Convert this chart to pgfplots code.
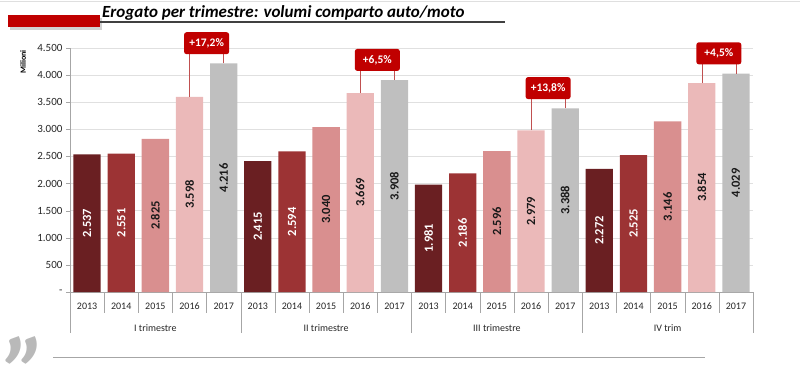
\documentclass[border=0pt]{standalone}
\usepackage{pgfplots}
\usepackage{pgfplotstable}
\pgfplotsset{compat=1.18}
\usepackage{fontspec}
\setmainfont{Carlito}
\definecolor{c13}{HTML}{6A1F22}
\definecolor{c14}{HTML}{9C3334}
\definecolor{c15}{HTML}{D98F8F}
\definecolor{c16}{HTML}{EBB9B9}
\definecolor{c17}{HTML}{BFBFBF}
\definecolor{cred}{HTML}{C00000}
\definecolor{cline}{HTML}{C05050}
\definecolor{gridc}{HTML}{E0E0E0}
\definecolor{axc}{HTML}{A6A6A6}

\pgfplotstableread{
x v
0 2537
5 2415
10 1981
15 2272
}\ya
\pgfplotstableread{
x v
1 2551
6 2594
11 2186
16 2525
}\yb
\pgfplotstableread{
x v
2 2825
7 3040
12 2596
17 3146
}\yc
\pgfplotstableread{
x v
3 3598
8 3669
13 2979
18 3854
}\yd
\pgfplotstableread{
x v
4 4216
9 3908
14 3388
19 4029
}\ye

\begin{document}
\begin{tikzpicture}[x=1pt,y=1pt]
\path[use as bounding box] (0,0) rectangle (800,-373);
% header
\draw[gray!25, line width=1pt] (0,-1) -- (800,-1);
\fill[gray!35] (10,-17.5) rectangle (102,-29.5);
\fill[cred] (8,-15) rectangle (100,-27);
\draw[black!75, line width=1.3pt] (100,-22) -- (505,-22);
\node[anchor=base west, inner sep=0pt, font=\fontsize{17}{17}\selectfont\bfseries\itshape] at (102,-17) {Erogato per trimestre: volumi comparto auto/moto};
% y label
\node[rotate=90, font=\fontsize{8}{8}\selectfont\bfseries] at (23,-62) {Milioni};
% footer
\node[text=gray!55, inner sep=0pt, anchor=base west, font=\fontsize{100}{100}\selectfont\bfseries\itshape] at (4,-350) {„};
\draw[axc, line width=1.2pt] (53,-357.5) -- (705,-357.5);

\begin{axis}[
  at={(70pt,-292pt)}, anchor=south west,
  scale only axis, width=683pt, height=244pt,
  xmin=-0.5, xmax=19.5, ymin=0, ymax=4500,
  clip=false,
  axis lines*=left,
  axis line style={draw=axc},
  ymajorgrids, grid style={draw=gridc},
  ytick={0,500,...,4500},
  yticklabels={-\hspace{9pt},500,1.000,1.500,2.000,2.500,3.000,3.500,4.000,4.500},
  ytick style={draw=axc},
  tick align=outside, major tick length=4pt,
  xtick={0,...,19},
  xticklabels={2013,2014,2015,2016,2017,2013,2014,2015,2016,2017,2013,2014,2015,2016,2017,2013,2014,2015,2016,2017},
  x tick style={draw=none},
  yticklabel style={font=\fontsize{11}{11}\selectfont, text=black!85},
  xticklabel style={font=\fontsize{10}{10}\selectfont, text=black!85, yshift=-3pt},
  /pgf/number format/assume math mode=true,
  /pgf/number format/1000 sep={.},
  every node near coord/.append style={rotate=90, anchor=center, font=\fontsize{12.5}{12.5}\selectfont\bfseries, inner sep=0pt},
]
\addplot[ybar, bar width=0.8, bar shift=0pt, fill=c13, draw=none] table[x=x,y=v]{\ya};
\addplot[ybar, bar width=0.8, bar shift=0pt, fill=c14, draw=none] table[x=x,y=v]{\yb};
\addplot[ybar, bar width=0.8, bar shift=0pt, fill=c15, draw=none] table[x=x,y=v]{\yc};
\addplot[ybar, bar width=0.8, bar shift=0pt, fill=c16, draw=none] table[x=x,y=v]{\yd};
\addplot[ybar, bar width=0.8, bar shift=0pt, fill=c17, draw=none] table[x=x,y=v]{\ye};
% value labels at mid-height
\addplot[draw=none, mark=none, nodes near coords, point meta=\thisrow{v}, every node near coord/.append style={text=white}] table[x=x,y expr=\thisrow{v}/2]{\ya};
\addplot[draw=none, mark=none, nodes near coords, point meta=\thisrow{v}, every node near coord/.append style={text=white}] table[x=x,y expr=\thisrow{v}/2]{\yb};
\addplot[draw=none, mark=none, nodes near coords, point meta=\thisrow{v}, every node near coord/.append style={text=black!90}] table[x=x,y expr=\thisrow{v}/2]{\yc};
\addplot[draw=none, mark=none, nodes near coords, point meta=\thisrow{v}, every node near coord/.append style={text=black!90}] table[x=x,y expr=\thisrow{v}/2]{\yd};
\addplot[draw=none, mark=none, nodes near coords, point meta=\thisrow{v}, every node near coord/.append style={text=black!90}] table[x=x,y expr=\thisrow{v}/2]{\ye};
% separators
\pgfplotsinvokeforeach{0.5,1.5,2.5,3.5,5.5,6.5,7.5,8.5,10.5,11.5,12.5,13.5,15.5,16.5,17.5,18.5}{
  \draw[axc] (axis cs:#1,0) -- ++(0pt,-21pt);
}
\pgfplotsinvokeforeach{-0.5,4.5,9.5,14.5,19.5}{
  \draw[axc] (axis cs:#1,0) -- ++(0pt,-41pt);
}
% group labels
\node[font=\fontsize{10}{10}\selectfont, text=black!85] at (axis cs:2,0) [yshift=-36pt] {I trimestre};
\node[font=\fontsize{10}{10}\selectfont, text=black!85] at (axis cs:7,0) [yshift=-36pt] {II trimestre};
\node[font=\fontsize{10}{10}\selectfont, text=black!85] at (axis cs:12,0) [yshift=-36pt] {III trimestre};
\node[font=\fontsize{10}{10}\selectfont, text=black!85] at (axis cs:17,0) [yshift=-36pt] {IV trim};
% callouts
\tikzset{callout/.style={fill=cred, text=white, rounded corners=2.5pt, font=\fontsize{11.5}{11.5}\selectfont\bfseries, minimum width=45pt, minimum height=22pt, inner sep=2pt, anchor=south}}
\draw[cline] (axis cs:3,3598) -- (axis cs:3,4216) -- ++(0pt,10pt);
\draw[cline] (axis cs:4,4216) -- ++(0pt,10pt);
\node[callout] at (axis cs:3.5,4216) [yshift=9pt] {+17,2\%};
\draw[cline] (axis cs:8,3669) -- (axis cs:8,3908) -- ++(0pt,10pt);
\draw[cline] (axis cs:9,3908) -- ++(0pt,10pt);
\node[callout] at (axis cs:8.5,3908) [yshift=9pt] {+6,5\%};
\draw[cline] (axis cs:13,2979) -- (axis cs:13,3388) -- ++(0pt,10pt);
\draw[cline] (axis cs:14,3388) -- ++(0pt,10pt);
\node[callout] at (axis cs:13.5,3388) [yshift=9pt] {+13,8\%};
\draw[cline] (axis cs:18,3854) -- (axis cs:18,4029) -- ++(0pt,10pt);
\draw[cline] (axis cs:19,4029) -- ++(0pt,10pt);
\node[callout] at (axis cs:18.5,4029) [yshift=9pt] {+4,5\%};
\end{axis}
\end{tikzpicture}
\end{document}
